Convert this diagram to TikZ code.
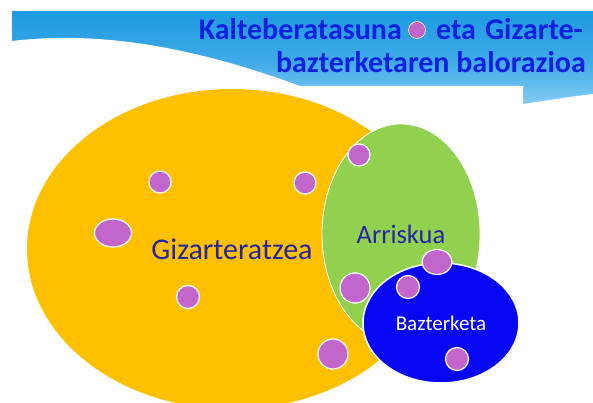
\documentclass[tikz,border=0pt]{standalone}
\usepackage{fontspec}
\setmainfont{Carlito}
\usetikzlibrary{shapes.geometric,positioning}

\definecolor{skydark}{HTML}{1E9AE0}
\definecolor{skylight}{HTML}{8CD0F6}
\definecolor{gold}{HTML}{FFC000}
\definecolor{leaf}{HTML}{92D050}
\definecolor{deepblue}{HTML}{0606F2}
\definecolor{orchid}{HTML}{C266CC}
\definecolor{navy}{HTML}{2424A8}
\definecolor{titleblue}{HTML}{1020E0}

\begin{document}
\begin{tikzpicture}[x=1pt,y=-1pt]

\tikzset{zone/.style = {shape=ellipse,inner sep=0pt}}
\tikzset{spot/.style = {shape=circle,fill=orchid,draw=white,line width=1.2pt,inner sep=0pt,minimum size=#1}}
\tikzset{oval/.style = {shape=ellipse,fill=orchid,draw=white,line width=1.2pt,inner sep=0pt}}
\tikzset{title/.style = {font=\bfseries\fontsize{30}{30}\selectfont,text=titleblue,inner sep=0pt}}
\useasboundingbox (0,0) rectangle (593,403);
% header band
\shade[top color=skydark,bottom color=skylight,middle color=skydark!70!skylight] (12,12) rectangle (593,110);
\fill[white] (12,41) .. controls (80,33) and (170,38) .. (300,86) -- (523,86) -- (523,104)
  .. controls (550,100) and (575,96) .. (593,94) -- (593,130) -- (12,130) -- cycle;
% title
\node[title,anchor=base east] (TitleA) at (402,40) {Kalteberatasuna};
\node[spot=17pt,line width=0.6pt] (TitleDot) at (417,30) {};
\node[title,anchor=base west] (TitleB) at (436,40) {eta\hspace{0.3em}Gizarte-};
\node[title,anchor=base east] (TitleC) at (586,73) {bazterketaren balorazioa};
% sets
\node[zone,fill=gold,minimum width=410pt,minimum height=320pt,text=navy,
  font=\fontsize{30}{30}\selectfont] (Inclusion) at (232,249) {Gizarteratzea};
\node[zone,fill=leaf,draw=white,line width=0.8pt,minimum width=158pt,minimum height=220pt,
  text=navy,font=\fontsize{26.5}{26.5}\selectfont] (Risk) at (401,234) {Arriskua};
\node[zone,fill=deepblue,draw=white,line width=1.5pt,minimum width=156pt,minimum height=120pt,
  text=white,font=\fontsize{21}{21}\selectfont] (Exclusion) at (441,323) {Bazterketa};
% people
\node[spot=22pt] (P1) at (160,182) {};
\node[oval,minimum width=37pt,minimum height=28pt] (P2) at (113,233) {};
\node[spot=23pt] (P3) at (188,297) {};
\node[spot=22pt] (P4) at (305,183) {};
\node[spot=22pt] (P5) at (359,155) {};
\node[spot=30pt] (P6) at (355,288) {};
\node[spot=30pt] (P7) at (333,354) {};
\node[oval,minimum width=30pt,minimum height=25pt] (P8) at (437,262) {};
\node[spot=23pt] (P9) at (408,287) {};
\node[spot=23pt] (P10) at (457,359) {};
\end{tikzpicture}
\end{document}
